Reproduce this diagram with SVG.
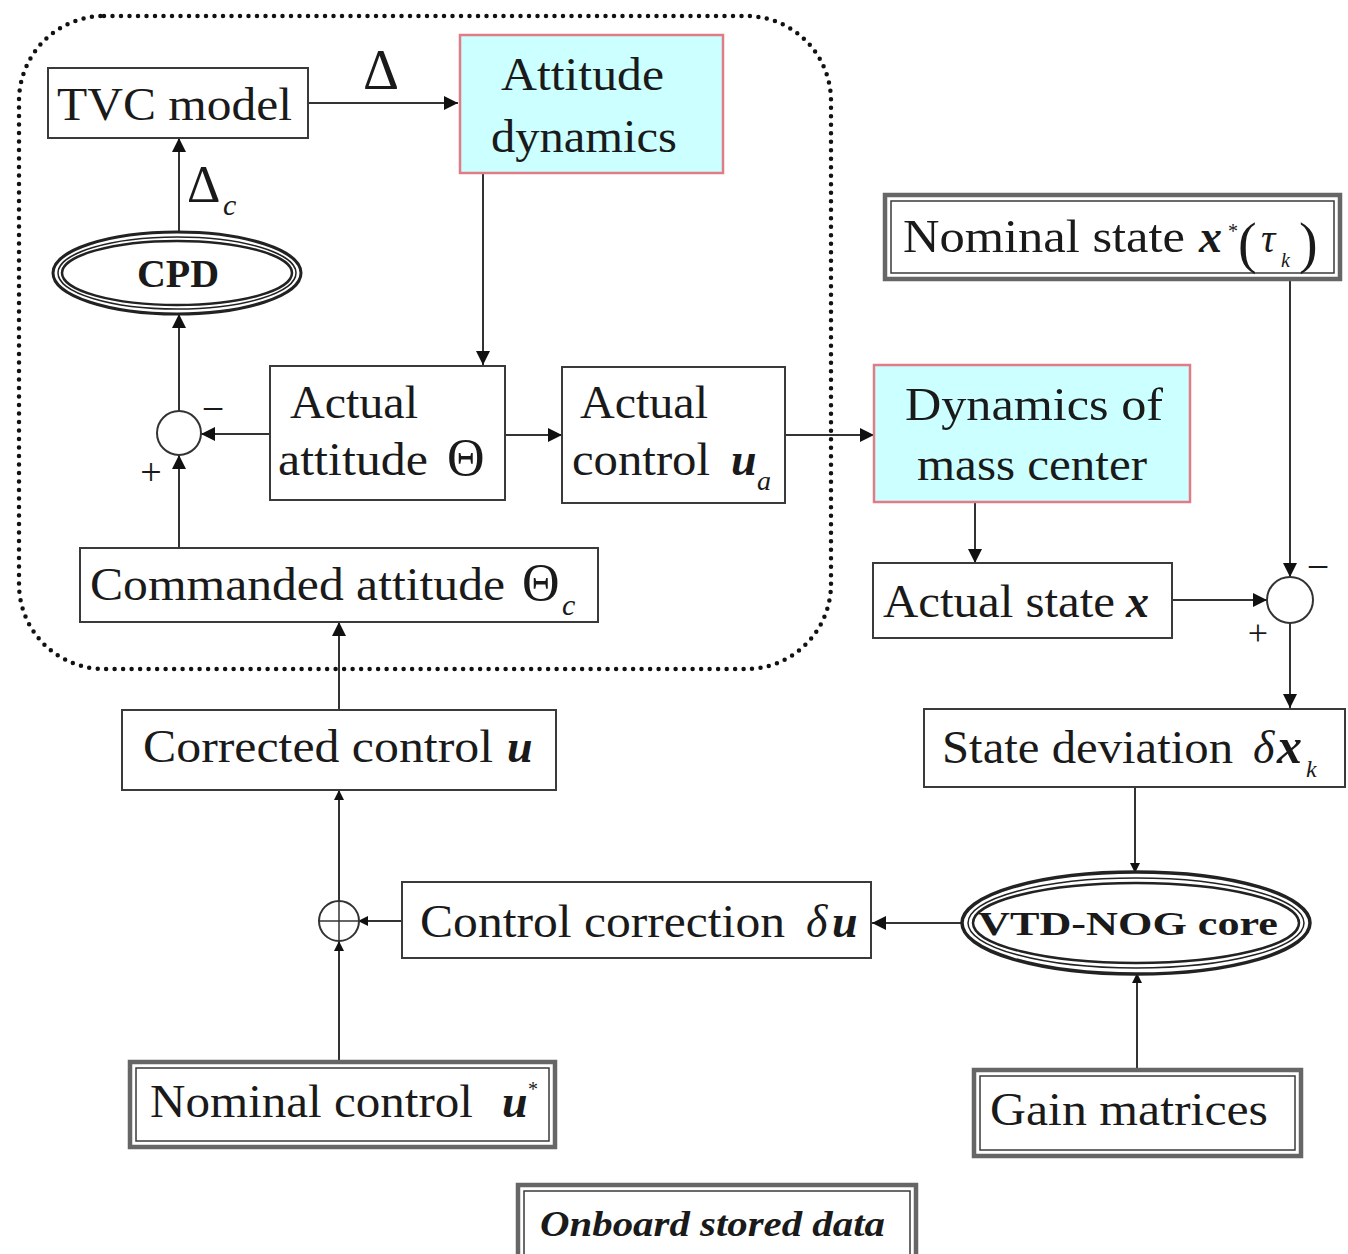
<svg xmlns="http://www.w3.org/2000/svg" width="1348" height="1254" viewBox="0 0 1348 1254">
<style>
  .t{font-family:"Liberation Serif","Times New Roman",serif;font-size:46px;fill:#1a1a1a}
  .m{font-family:"Liberation Serif","Times New Roman",serif;font-style:italic;font-weight:bold;font-size:46px;fill:#1a1a1a}
  .i{font-family:"Liberation Serif","Times New Roman",serif;font-style:italic;font-size:46px;fill:#1a1a1a}
  .b{font-family:"Liberation Serif","Times New Roman",serif;font-weight:bold;fill:#1a1a1a}
  .box{fill:#fff;stroke:#3a3a3a;stroke-width:2}
  .dyn{fill:#ccffff;stroke:#e07b88;stroke-width:2.5}
  .outer{fill:#fff;stroke:#666;stroke-width:4.5}
  .inner{fill:none;stroke:#3a3a3a;stroke-width:1.5}
  .ell{fill:none;stroke:#222}
  .c{fill:none;stroke:#333;stroke-width:2}
  .sum{fill:#fff;stroke:#333;stroke-width:2}
</style>
<defs>
  <marker id="ah" viewBox="0 0 10 10" refX="10" refY="5" markerWidth="16" markerHeight="14" markerUnits="userSpaceOnUse" orient="auto">
    <path d="M0,0 L10,5 L0,10 z" fill="#111"/>
  </marker>
  <marker id="as" viewBox="0 0 10 10" refX="10" refY="5" markerWidth="11" markerHeight="10" markerUnits="userSpaceOnUse" orient="auto">
    <path d="M0,0 L10,5 L0,10 z" fill="#111"/>
  </marker>
</defs>
<rect width="1348" height="1254" fill="#fff"/>

<!-- dotted boundary -->
<rect x="19" y="16" width="812" height="653" rx="85" ry="85" fill="none" stroke="#111" stroke-width="4.5" stroke-dasharray="0 8.5" stroke-linecap="round"/>

<g id="connectors">
  <line class="c" x1="308" y1="103" x2="458" y2="103" marker-end="url(#ah)"/>
  <line class="c" x1="483" y1="173" x2="483" y2="365" marker-end="url(#ah)"/>
  <line class="c" x1="505" y1="435" x2="562" y2="435" marker-end="url(#ah)"/>
  <line class="c" x1="785" y1="435" x2="874" y2="435" marker-end="url(#ah)"/>
  <line class="c" x1="975" y1="502" x2="975" y2="563" marker-end="url(#ah)"/>
  <line class="c" x1="1172" y1="600" x2="1267" y2="600" marker-end="url(#ah)"/>
  <line class="c" x1="1290" y1="280" x2="1290" y2="577" marker-end="url(#ah)"/>
  <line class="c" x1="1290" y1="623" x2="1290" y2="708" marker-end="url(#ah)"/>
  <line class="c" x1="1135" y1="787" x2="1135" y2="873" marker-end="url(#as)"/>
  <line class="c" x1="962" y1="923" x2="872" y2="923" marker-end="url(#ah)"/>
  <line class="c" x1="402" y1="921" x2="358" y2="921" marker-end="url(#as)"/>
  <line class="c" x1="339" y1="1060" x2="339" y2="941" marker-end="url(#as)"/>
  <line class="c" x1="339" y1="901" x2="339" y2="790" marker-end="url(#as)"/>
  <line class="c" x1="339" y1="710" x2="339" y2="622" marker-end="url(#ah)"/>
  <line class="c" x1="179" y1="548" x2="179" y2="455" marker-end="url(#ah)"/>
  <line class="c" x1="270" y1="434" x2="201" y2="434" marker-end="url(#ah)"/>
  <line class="c" x1="179" y1="411" x2="179" y2="314" marker-end="url(#ah)"/>
  <line class="c" x1="179" y1="231" x2="179" y2="138" marker-end="url(#ah)"/>
  <line class="c" x1="1137" y1="1068" x2="1137" y2="973" marker-end="url(#as)"/>
  <text class="t" x="363" y="89" style="font-size:56px">Δ</text>
  <text class="t" x="187" y="202" style="font-size:52px">Δ</text>
  <text class="i" x="223" y="215" style="font-size:30px">c</text>
</g>

<g id="tvc">
  <rect class="box" x="48" y="68" width="260" height="70"/>
  <text class="t" x="57" y="120" textLength="235" lengthAdjust="spacingAndGlyphs">TVC model</text>
</g>

<g id="attitude-dynamics">
  <rect class="dyn" x="460" y="35" width="263" height="138"/>
  <text class="t" x="501" y="90" textLength="163" lengthAdjust="spacingAndGlyphs">Attitude</text>
  <text class="t" x="491" y="152" textLength="186" lengthAdjust="spacingAndGlyphs">dynamics</text>
</g>

<g id="cpd">
  <ellipse class="ell" cx="177" cy="273" rx="124" ry="41" stroke-width="3"/>
  <ellipse class="ell" cx="177" cy="273" rx="119" ry="36" stroke-width="1.5"/>
  <ellipse class="ell" cx="177" cy="273" rx="115" ry="32" stroke-width="2.5"/>
  <text class="b" x="178" y="287" text-anchor="middle" style="font-size:40px">CPD</text>
</g>

<g id="sum-attitude">
  <circle class="sum" cx="179" cy="433" r="22"/>
  <text class="t" x="213" y="422" text-anchor="middle" style="font-size:40px">−</text>
  <text class="t" x="151" y="485" text-anchor="middle" style="font-size:38px">+</text>
</g>

<g id="actual-attitude">
  <rect class="box" x="270" y="366" width="235" height="134"/>
  <text class="t" x="290" y="418" textLength="128" lengthAdjust="spacingAndGlyphs">Actual</text>
  <text class="t" x="278" y="475" textLength="150" lengthAdjust="spacingAndGlyphs">attitude</text>
  <text class="t" x="447" y="475" style="font-size:52px">Θ</text>
</g>

<g id="actual-control">
  <rect class="box" x="562" y="367" width="223" height="136"/>
  <text class="t" x="580" y="418" textLength="128" lengthAdjust="spacingAndGlyphs">Actual</text>
  <text class="t" x="572" y="475" textLength="138" lengthAdjust="spacingAndGlyphs">control</text>
  <text class="m" x="731" y="475">u</text>
  <text class="i" x="757" y="490" style="font-size:28px">a</text>
</g>

<g id="commanded-attitude">
  <rect class="box" x="80" y="548" width="518" height="74"/>
  <text class="t" x="90" y="600" textLength="415" lengthAdjust="spacingAndGlyphs">Commanded attitude</text>
  <text class="t" x="522" y="600" style="font-size:52px">Θ</text>
  <text class="i" x="562" y="615" style="font-size:30px">c</text>
</g>

<g id="dynamics-mass-center">
  <rect class="dyn" x="874" y="365" width="316" height="137"/>
  <text class="t" x="905" y="420" textLength="258" lengthAdjust="spacingAndGlyphs">Dynamics of</text>
  <text class="t" x="917" y="480" textLength="230" lengthAdjust="spacingAndGlyphs">mass center</text>
</g>

<g id="actual-state">
  <rect class="box" x="873" y="563" width="299" height="75"/>
  <text class="t" x="883" y="617" textLength="232" lengthAdjust="spacingAndGlyphs">Actual state</text>
  <text class="m" x="1126" y="617">x</text>
</g>

<g id="nominal-state">
  <rect class="outer" x="885" y="195" width="455" height="84"/>
  <rect class="inner" x="891" y="201" width="443" height="72"/>
  <text class="t" x="903" y="252" textLength="282" lengthAdjust="spacingAndGlyphs">Nominal state</text>
  <text class="m" x="1199" y="252">x</text>
  <text class="t" x="1228" y="238" style="font-size:20px">*</text>
  <text class="t" x="1238" y="262" style="font-size:56px">(</text>
  <text class="i" x="1261" y="252" style="font-size:40px">τ</text>
  <text class="i" x="1281" y="267" style="font-size:20px">k</text>
  <text class="t" x="1299" y="262" style="font-size:56px">)</text>
</g>

<g id="sum-state">
  <circle class="sum" cx="1290" cy="600" r="23"/>
  <text class="t" x="1318" y="580" text-anchor="middle" style="font-size:40px">−</text>
  <text class="t" x="1258" y="645" text-anchor="middle" style="font-size:36px">+</text>
</g>

<g id="state-deviation">
  <rect class="box" x="924" y="709" width="421" height="78"/>
  <text class="t" x="942" y="763" textLength="291" lengthAdjust="spacingAndGlyphs">State deviation</text>
  <text class="i" x="1253" y="763">δ</text>
  <text class="m" x="1277" y="763" style="font-size:50px">x</text>
  <text class="i" x="1306" y="777" style="font-size:24px">k</text>
</g>

<g id="vtd-nog-core">
  <ellipse class="ell" cx="1136" cy="923" rx="174" ry="51" stroke-width="3.5"/>
  <ellipse class="ell" cx="1136" cy="923" rx="168" ry="45" stroke-width="1.5"/>
  <ellipse class="ell" cx="1136" cy="923" rx="163" ry="40" stroke-width="2.5"/>
  <text class="b" x="978" y="935" textLength="300" lengthAdjust="spacingAndGlyphs" style="font-size:34px">VTD-NOG core</text>
</g>

<g id="control-correction">
  <rect class="box" x="402" y="882" width="469" height="76"/>
  <text class="t" x="420" y="937" textLength="365" lengthAdjust="spacingAndGlyphs">Control correction</text>
  <text class="i" x="806" y="937">δ</text>
  <text class="m" x="832" y="937">u</text>
</g>

<g id="sum-control">
  <circle class="sum" cx="339" cy="921" r="20"/>
  <line x1="319" y1="921" x2="359" y2="921" stroke="#333" stroke-width="1.5"/>
  <line x1="339" y1="901" x2="339" y2="941" stroke="#333" stroke-width="1.5"/>
</g>

<g id="corrected-control">
  <rect class="box" x="122" y="710" width="434" height="80"/>
  <text class="t" x="143" y="762" textLength="350" lengthAdjust="spacingAndGlyphs">Corrected control</text>
  <text class="m" x="507" y="762">u</text>
</g>

<g id="nominal-control">
  <rect class="outer" x="130" y="1062" width="425" height="85"/>
  <rect class="inner" x="136" y="1068" width="413" height="73"/>
  <text class="t" x="150" y="1117" textLength="323" lengthAdjust="spacingAndGlyphs">Nominal control</text>
  <text class="m" x="502" y="1117">u</text>
  <text class="t" x="528" y="1096" style="font-size:20px">*</text>
</g>

<g id="gain-matrices">
  <rect class="outer" x="974" y="1070" width="327" height="86"/>
  <rect class="inner" x="980" y="1076" width="315" height="74"/>
  <text class="t" x="990" y="1125" textLength="278" lengthAdjust="spacingAndGlyphs">Gain matrices</text>
</g>

<g id="onboard-stored-data">
  <rect class="outer" x="518" y="1185" width="398" height="80"/>
  <rect class="inner" x="524" y="1191" width="386" height="80"/>
  <text class="b" x="540" y="1236" textLength="345" lengthAdjust="spacingAndGlyphs" style="font-size:36px;font-style:italic">Onboard stored data</text>
</g>
</svg>
